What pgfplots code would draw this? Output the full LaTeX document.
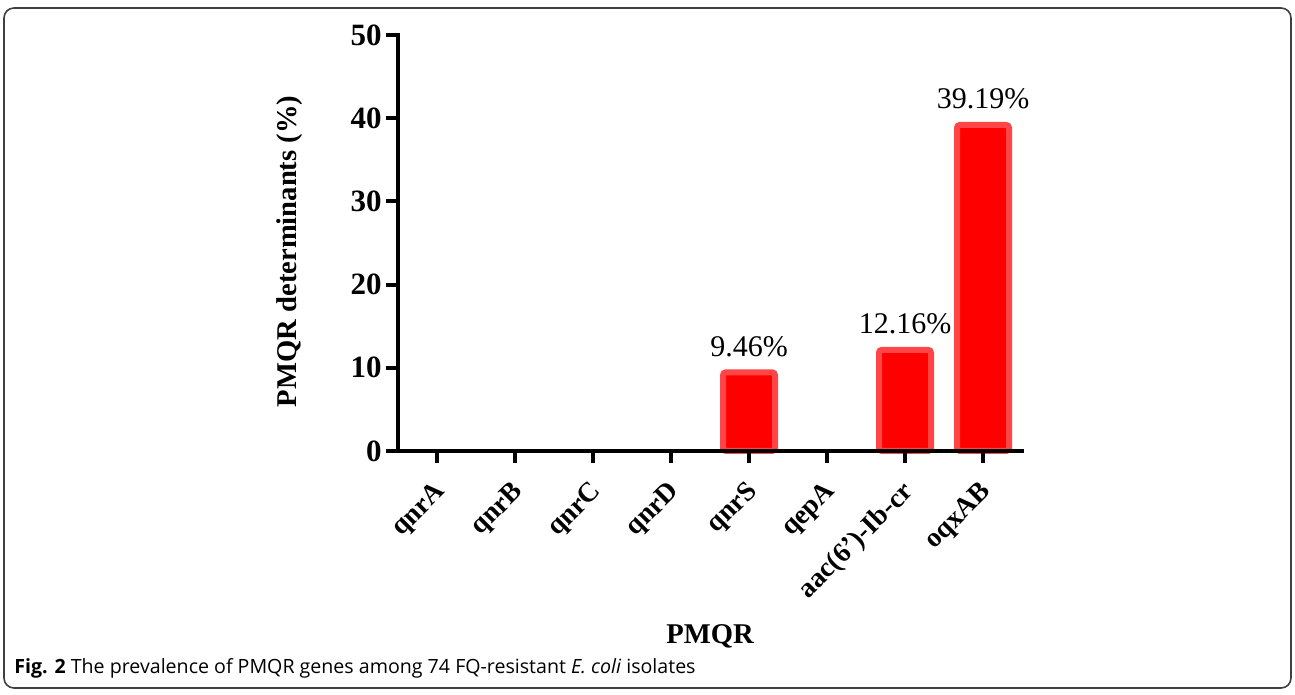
\documentclass[border=0pt]{standalone}
\usepackage{pgfplots}
\pgfplotsset{compat=1.18}
\usepackage{pgfplotstable}
\usepackage{fontspec}
\setmainfont{Liberation Serif}
\newfontfamily\capfont{Open Sans}
\definecolor{barfill}{HTML}{FF0000}
\definecolor{barline}{HTML}{FF4545}
\pgfplotstableread{
x y lab
0 0 0
1 0 0
2 0 0
3 0 0
4 9.46 9.46\%
5 0 0
6 12.16 12.16\%
7 39.19 39.19\%
}\datatab
\begin{document}
\begin{tikzpicture}
\path[use as bounding box] (0,0) rectangle (647.5pt,347.5pt);
\draw[line width=0.8pt, black!75, rounded corners=5pt] (2pt,3.5pt) rectangle (645.5pt,343.5pt);
\begin{axis}[
  at={(199pt,122pt)}, anchor=south west,
  scale only axis, width=312pt, height=208pt,
  xmin=-0.5, xmax=7.5, ymin=0, ymax=50,
  axis lines*=left, axis line style={line width=2pt, line cap=rect},
  axis on top,
  xtick={0,...,7},
  xticklabels={qnrA,qnrB,qnrC,qnrD,qnrS,qepA,aac(6')-Ib-cr,oqxAB},
  ytick={0,10,...,50},
  tick align=outside, major tick length=6pt,
  every tick/.style={black, line width=2pt},
  yticklabel style={font=\fontsize{15.5}{17}\selectfont\bfseries, inner sep=2pt},
  /pgf/number format/assume math mode=true,
  xticklabel style={font=\fontsize{13.8}{15}\selectfont\bfseries, xshift=-2pt, yshift=-8pt, rotate=45, anchor=north east, inner sep=0pt},
  ylabel={PMQR determinants (\%)},
  xlabel={PMQR},
  every axis y label/.style={at={(axis description cs:-0.173,0.48)}, rotate=90, anchor=center, font=\fontsize{14.3}{17}\selectfont\bfseries},
  every axis x label/.style={at={(axis description cs:0.5,-0.445)}, anchor=center, font=\fontsize{14.3}{17}\selectfont\bfseries},
  ybar, bar width=26pt, bar shift=0pt,
  nodes near coords, point meta=explicit symbolic,
  every node near coord/.append style={font=\fontsize{15}{17}\selectfont, anchor=south, yshift=3pt},
  clip=false,
]
\addplot[fill=barfill, draw=barline, line width=3pt, rounded corners=1.5pt,
  y filter/.expression={y==0 ? nan : y}] table[x=x, y=y, meta=lab] {\datatab};
\end{axis}
\node[anchor=base west, font=\capfont\fontsize{9.8}{12}\selectfont, inner sep=0pt] at (7pt,10.5pt)
  {\textbf{Fig. 2} The prevalence of PMQR genes among 74 FQ-resistant \textit{E. coli} isolates};
\end{tikzpicture}
\end{document}
